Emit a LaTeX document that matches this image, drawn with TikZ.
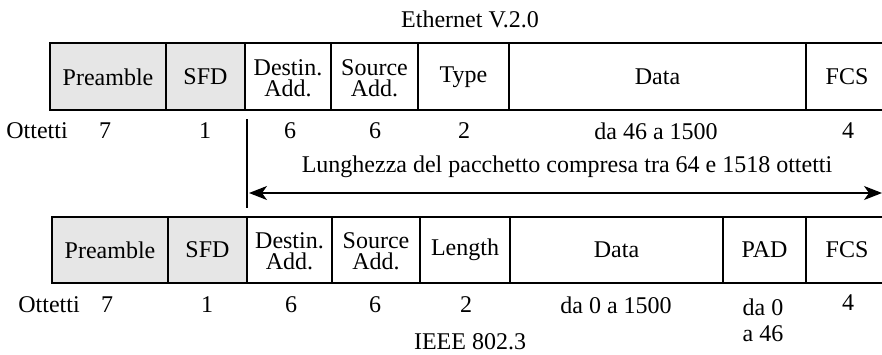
\documentclass[tikz,border=0pt]{standalone}
\usepackage{fontspec}
\setmainfont{Liberation Serif}
\usetikzlibrary{arrows.meta}
\definecolor{hdrgray}{RGB}{230,230,230}

\begin{document}
\begin{tikzpicture}[x=0.5pt,y=-0.5pt, line width=0.6pt,
    every node/.style={font=\fontsize{12}{12.6}\selectfont, inner sep=0pt},
    hdr/.style={fill=hdrgray},
    twoline/.style={align=center, font=\fontsize{12}{10.5}\selectfont}]
  \useasboundingbox (0,0) rectangle (882,354);

  % Ethernet V.2.0 frame
  \node (ethtitle) at (470,19) {Ethernet V.2.0};
  \fill[hdr] (50,43) rectangle (245,110);
  \draw (882,43) -- (50,43) -- (50,110) -- (882,110);
  \draw (166,43) -- (166,110);
  \draw (245,43) -- (245,110);
  \draw (331,43) -- (331,110);
  \draw (418,43) -- (418,110);
  \draw (509,43) -- (509,110);
  \draw (806,43) -- (806,110);
  \node (epre)  at (108,77)   {Preamble};
  \node (esfd)  at (205.5,77) {SFD};
  \node[twoline] (edst) at (288,78) {Destin.\\Add.};
  \node[twoline] (esrc) at (374.5,78) {Source\\Add.};
  \node (etype) at (463.5,77) {Type};
  \node (edata) at (657.5,77) {Data};
  \node (efcs)  at (847,77)   {FCS};

  % octets, top
  \node (eott) at (37,131)  {Ottetti};
  \node (e7)   at (105,131) {7};
  \node (e1)   at (205,131) {1};
  \node (e6a)  at (290,131) {6};
  \node (e6b)  at (375,131) {6};
  \node (e2)   at (464,131) {2};
  \node (e46)  at (656,131) {da 46 a 1500};
  \node (e4)   at (848,131) {4};

  % packet length
  \coordinate (ticktop) at (247,119);
  \coordinate (tickbot) at (247,208);
  \draw (ticktop) -- (tickbot);
  \coordinate (lenL) at (249,193);
  \coordinate (lenR) at (882,193);
  \draw[{Stealth[length=9pt,width=7pt,inset=2.5pt]}-{Stealth[length=9pt,width=7pt,inset=2.5pt]}]
    (lenL) -- (lenR);
  \node (lentext) at (567,167) {Lunghezza del pacchetto compresa tra 64 e 1518 ottetti};

  % IEEE 802.3 frame
  \fill[hdr] (52,217) rectangle (247,283);
  \draw (882,217) -- (52,217) -- (52,283) -- (882,283);
  \draw (168,217) -- (168,283);
  \draw (247,217) -- (247,283);
  \draw (332,217) -- (332,283);
  \draw (420,217) -- (420,283);
  \draw (510,217) -- (510,283);
  \draw (723,217) -- (723,283);
  \draw (806,217) -- (806,283);
  \node (ipre)  at (110,250)   {Preamble};
  \node (isfd)  at (207.5,250) {SFD};
  \node[twoline] (idst) at (289.5,251) {Destin.\\Add.};
  \node[twoline] (isrc) at (376,251)   {Source\\Add.};
  \node (ilen)  at (465,250)   {Length};
  \node (idata) at (616.5,250) {Data};
  \node (ipad)  at (764.5,250) {PAD};
  \node (ifcs)  at (847,250)   {FCS};

  % octets, bottom
  \node (iott) at (49,305)  {Ottetti};
  \node (i7)   at (107,305) {7};
  \node (i1)   at (207,305) {1};
  \node (i6a)  at (291,305) {6};
  \node (i6b)  at (375,305) {6};
  \node (i2)   at (466,305) {2};
  \node (i0)   at (616,305) {da 0 a 1500};
  \node[twoline, font=\fontsize{12}{13}\selectfont] (ipadn) at (763,320) {da 0\\a 46};
  \node (i4)   at (848,303) {4};
  \node (ieeetitle) at (470,342) {IEEE 802.3};
\end{tikzpicture}
\end{document}
